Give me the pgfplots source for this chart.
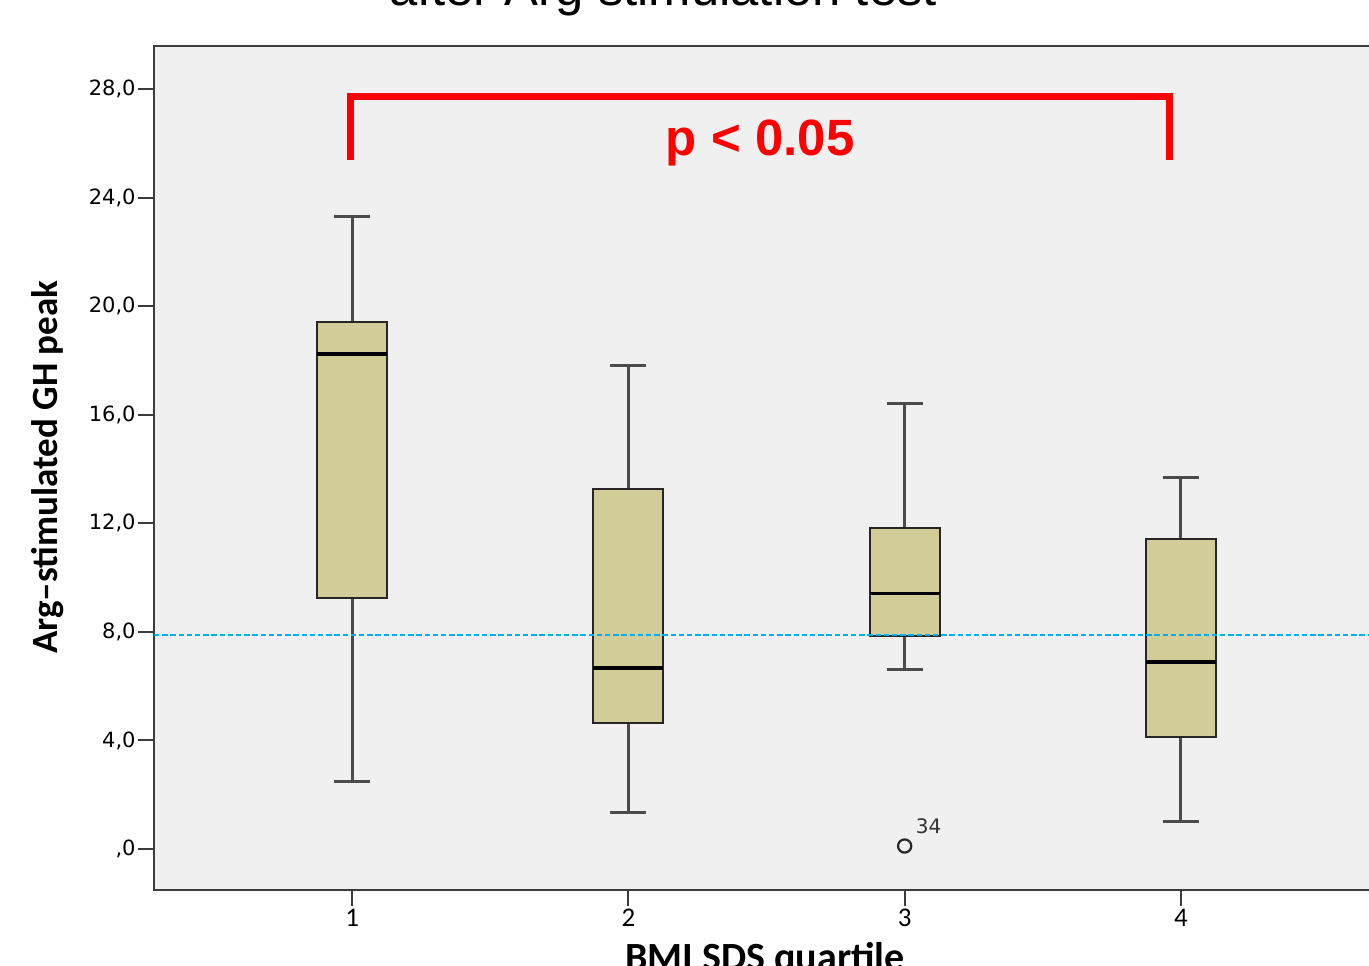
\documentclass[border=0pt]{standalone}
\usepackage{pgfplots}
\pgfplotsset{compat=1.18}
\usepgfplotslibrary{statistics}
\usepackage{fontspec}
\setmainfont{Liberation Sans}
\newfontfamily\carlito{Carlito}
\newfontfamily\dejavu{DejaVu Sans}
\definecolor{bg}{RGB}{240,240,240}
\definecolor{boxfill}{RGB}{210,205,152}
\definecolor{refblue}{RGB}{0,174,239}
\definecolor{axgray}{RGB}{60,60,60}
\definecolor{whgray}{RGB}{75,75,75}
\begin{document}
\begin{tikzpicture}
\path[use as bounding box, clip] (0,0) rectangle (684.5pt,482.5pt);
\begin{axis}[
  at={(77pt,37.5pt)}, anchor=south west,
  width=612.5pt, height=422pt, scale only axis,
  xmin=0.283, xmax=4.717, ymin=-1.511, ymax=29.587,
  axis background/.style={fill=bg},
  axis line style={axgray, line width=1.2pt},
  xtick={1,2,3,4},
  ytick={0,4,8,12,16,20,24,28},
  yticklabels={{,0},{4,0},{8,0},{12,0},{16,0},{20,0},{24,0},{28,0}},
  /pgf/number format/assume math mode=true,
  tick align=outside, tick pos=left,
  major tick length=8pt,
  tick style={axgray, line width=1pt},
  x tick label style={font=\carlito\fontsize{13.5}{15}\selectfont, inner sep=1.5pt},
  y tick label style={font=\dejavu\fontsize{10.5}{12}\selectfont, inner sep=1pt},
  xlabel={BMI SDS quartile},
  xlabel style={at={(axis description cs:0.4988,-0.0948)}, anchor=base, font=\carlito\bfseries\fontsize{20}{24}\selectfont},
  ylabel={Arg–stimulated GH peak},
  ylabel style={at={(axis description cs:-0.0865,0.501)}, anchor=center, rotate=0, font=\carlito\bfseries\fontsize{18.5}{22}\selectfont},
  title={after Arg stimulation test},
  every axis title shift=0pt,
  title style={at={(axis description cs:0.4155,1.0474)}, anchor=base, yshift=0pt, font=\fontsize{25.4}{30}\selectfont},
  boxplot/draw direction=y,
  boxplot/every box/.style={draw=black!85, line width=1pt, fill=boxfill},
  boxplot/every whisker/.style={draw=whgray, line width=1.5pt},
  boxplot/every median/.style={draw=black, line width=1.6pt},
  clip=false,
]
\addplot[boxplot prepared={draw position=1, lower whisker=2.5, lower quartile=9.25, median=18.24, upper quartile=19.42, upper whisker=23.32, box extend=0.253, whisker extend=0.13}, draw=black!85] coordinates {};
\addplot[boxplot prepared={draw position=2, lower whisker=1.33, lower quartile=4.64, median=6.67, upper quartile=13.26, upper whisker=17.8, box extend=0.253, whisker extend=0.13}, draw=black!85] coordinates {};
\addplot[boxplot prepared={draw position=3, lower whisker=6.63, lower quartile=7.85, median=9.40, upper quartile=11.83, upper whisker=16.43, box extend=0.253, whisker extend=0.13}, draw=black!85, mark=o, mark size=3.3pt, mark options={draw=black!85, line width=1.1pt}] table[row sep=\\, y index=0] {0.11\\};
\addplot[boxplot prepared={draw position=4, lower whisker=1.03, lower quartile=4.13, median=6.89, upper quartile=11.42, upper whisker=13.7, box extend=0.253, whisker extend=0.13}, draw=black!85] coordinates {};
\addplot[refblue, line width=1.2pt, dash pattern=on 2.7pt off 1.4pt] coordinates {(0.283,7.88) (4.717,7.88)};
\node[font=\dejavu\fontsize{10}{12}\selectfont, text=black!80] at (axis cs:3.087,0.85) {34};
\draw[red, line width=3.5pt, line join=miter, line cap=butt] (axis cs:0.993,25.39) -- (axis cs:0.993,27.72) -- (axis cs:3.957,27.72) -- (axis cs:3.957,25.39);
\node[red, font=\bfseries\fontsize{25.5}{30}\selectfont, anchor=base] at (axis cs:2.477,25.57) {p < 0.05};
\end{axis}
\end{tikzpicture}
\end{document}
